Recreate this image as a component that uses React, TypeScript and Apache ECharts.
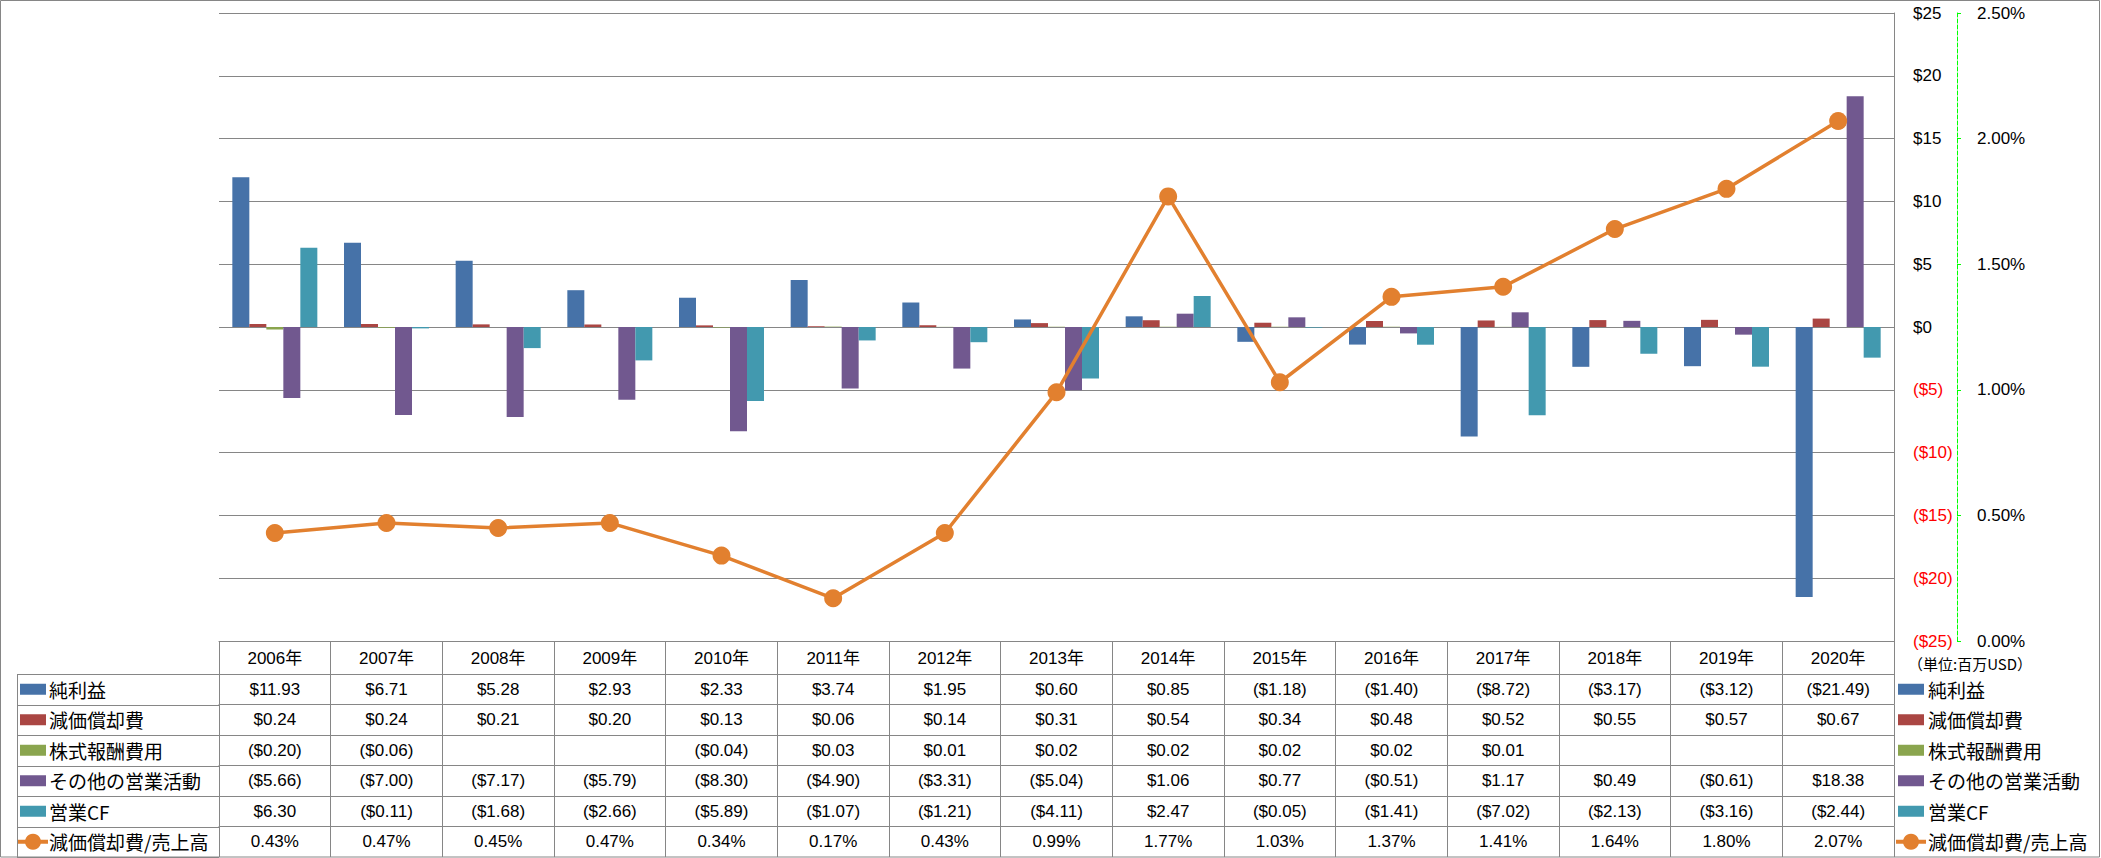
import React, { useEffect, useRef } from 'react';
import * as echarts from 'echarts';

// ---- data ----
const years = ['2006年', '2007年', '2008年', '2009年', '2010年', '2011年', '2012年', '2013年', '2014年', '2015年', '2016年', '2017年', '2018年', '2019年', '2020年'];
const netIncome = [11.93, 6.71, 5.28, 2.93, 2.33, 3.74, 1.95, 0.6, 0.85, -1.18, -1.4, -8.72, -3.17, -3.12, -21.49];
const depreciation = [0.24, 0.24, 0.21, 0.2, 0.13, 0.06, 0.14, 0.31, 0.54, 0.34, 0.48, 0.52, 0.55, 0.57, 0.67];
const stockComp = [-0.2, -0.06, null, null, -0.04, 0.03, 0.01, 0.02, 0.02, 0.02, 0.02, 0.01, null, null, null];
const otherOps = [-5.66, -7.0, -7.17, -5.79, -8.3, -4.9, -3.31, -5.04, 1.06, 0.77, -0.51, 1.17, 0.49, -0.61, 18.38];
const operatingCF = [6.3, -0.11, -1.68, -2.66, -5.89, -1.07, -1.21, -4.11, 2.47, -0.05, -1.41, -7.02, -2.13, -3.16, -2.44];
const depToSales = [0.43, 0.47, 0.45, 0.47, 0.34, 0.17, 0.43, 0.99, 1.77, 1.03, 1.37, 1.41, 1.64, 1.8, 2.07];

const seriesNames = ['純利益', '減価償却費', '株式報酬費用', 'その他の営業活動', '営業CF', '減価償却費/売上高'];
const unitLabel = '（単位:百万USD）';

// ---- style ----
const COLORS = ['#4672A8', '#AA4643', '#8AA54E', '#71588F', '#4299AF', '#E2802F'];
const GRAY = '#868686';
const FONT_NUM = "'Liberation Sans', Arial, 'Noto Sans CJK JP', sans-serif";
const FONT_JP = "'Noto Sans CJK JP', sans-serif";

const W = 2101;
const H = 858;
const GRID_L = 219;
const GRID_T = 13;
const GRID_R = 1894;
const GRID_B = 641;
const HEADER_H = 33;
const ROW_H = 30.5;
const LABEL_COL_L = 17;

const fmtUSD = (v: number | null) => (v == null ? '' : v < 0 ? `($${(-v).toFixed(2)})` : `$${v.toFixed(2)}`);
const fmtPct = (v: number | null) => (v == null ? '' : `${v.toFixed(2)}%`);

const rows = [
  { name: seriesNames[0], values: netIncome, fmt: fmtUSD },
  { name: seriesNames[1], values: depreciation, fmt: fmtUSD },
  { name: seriesNames[2], values: stockComp, fmt: fmtUSD },
  { name: seriesNames[3], values: otherOps, fmt: fmtUSD },
  { name: seriesNames[4], values: operatingCF, fmt: fmtUSD },
  { name: seriesNames[5], values: depToSales, fmt: fmtPct },
];

export default function App() {
  const ref = useRef<HTMLDivElement>(null);

  useEffect(() => {
    if (!ref.current) return;
    const chart = echarts.init(ref.current, undefined, { renderer: 'svg', width: W, height: H });

    const xAxes: any[] = [
      {
        type: 'category',
        data: years,
        gridIndex: 0,
        position: 'bottom',
        axisLine: { show: true, onZero: false, lineStyle: { color: GRAY, width: 1 } },
        axisTick: { show: true, interval: 0, length: HEADER_H, lineStyle: { color: GRAY, width: 1 } },
        axisLabel: { interval: 0, margin: 17, verticalAlign: 'middle', fontSize: 17, color: '#000', fontFamily: FONT_NUM },
        splitLine: { show: false },
      },
    ];
    rows.forEach((r, k) => {
      xAxes.push({
        type: 'category',
        data: years,
        gridIndex: 0,
        position: 'bottom',
        offset: HEADER_H + ROW_H * k,
        axisLine: { show: true, onZero: false, lineStyle: { color: GRAY, width: 1 } },
        axisTick: { show: true, interval: 0, length: ROW_H, lineStyle: { color: GRAY, width: 1 } },
        axisLabel: {
          interval: 0,
          margin: ROW_H / 2,
          verticalAlign: 'middle',
          fontSize: 17,
          color: '#000',
          fontFamily: FONT_NUM,
          formatter: (_v: string, i: number) => r.fmt(r.values[i] as number | null),
        },
        splitLine: { show: false },
      });
    });

    const graphics: any[] = [];
    // outer border
    graphics.push({ type: 'rect', shape: { x: 0.5, y: 0.5, width: W - 2, height: H - 1.5 }, style: { fill: 'none', stroke: GRAY, lineWidth: 1 }, silent: true });
    // row label column borders
    const tableTop = GRID_B + HEADER_H;
    for (let k = 0; k <= rows.length; k++) {
      const y = Math.round(tableTop + ROW_H * k) + 0.5;
      graphics.push({ type: 'line', shape: { x1: LABEL_COL_L, y1: y, x2: GRID_L, y2: y }, style: { stroke: GRAY, lineWidth: 1 }, silent: true });
    }
    graphics.push({ type: 'line', shape: { x1: LABEL_COL_L + 0.5, y1: tableTop, x2: LABEL_COL_L + 0.5, y2: tableTop + ROW_H * rows.length }, style: { stroke: GRAY, lineWidth: 1 }, silent: true });

    // legend keys (left in the table, right beside it)
    const addKey = (i: number, x: number, textX: number) => {
      const cy = tableTop + ROW_H * (i + 0.5);
      if (i < 5) {
        graphics.push({ type: 'rect', shape: { x, y: cy - 5.5, width: 26, height: 11 }, style: { fill: COLORS[i] }, silent: true });
      } else {
        graphics.push({ type: 'line', shape: { x1: x - 2, y1: cy, x2: x + 28, y2: cy }, style: { stroke: COLORS[i], lineWidth: 4 }, silent: true });
        graphics.push({ type: 'circle', shape: { cx: x + 13, cy, r: 8 }, style: { fill: COLORS[i] }, silent: true });
      }
      graphics.push({
        type: 'text',
        x: textX,
        y: cy,
        style: { text: rows[i].name, fontSize: 19, fontFamily: FONT_JP, fill: '#000', verticalAlign: 'middle', align: 'left' },
        silent: true,
      });
    };
    rows.forEach((_r, i) => {
      addKey(i, 20, 49);
      addKey(i, 1898, 1928);
    });
    graphics.push({
      type: 'text',
      x: 1908,
      y: 663,
      style: { text: unitLabel, fontSize: 15, fontFamily: FONT_JP, fill: '#000', verticalAlign: 'middle', align: 'left' },
      silent: true,
    });

    const barSeries = [netIncome, depreciation, stockComp, otherOps, operatingCF].map((vals, i) => ({
      name: seriesNames[i],
      type: 'bar',
      xAxisIndex: 0,
      yAxisIndex: 0,
      data: vals,
      barWidth: 17,
      barGap: '0%',
      itemStyle: { color: COLORS[i] },
      z: 2,
    }));

    chart.setOption({
      animation: false,
      backgroundColor: '#fff',
      grid: { left: GRID_L, top: GRID_T, width: GRID_R - GRID_L, height: GRID_B - GRID_T, containLabel: false },
      xAxis: xAxes,
      yAxis: [
        {
          type: 'value',
          position: 'right',
          min: -25,
          max: 25,
          interval: 5,
          axisLine: { show: true, lineStyle: { color: GRAY, width: 1 } },
          axisTick: { show: false },
          splitLine: { show: true, lineStyle: { color: GRAY, width: 1 } },
          axisLabel: {
            margin: 19,
            align: 'left',
            fontSize: 17,
            fontFamily: FONT_NUM,
            color: (v: any) => (Number(v) < 0 ? '#FF0000' : '#000'),
            formatter: (v: number) => (v < 0 ? `($${-v})` : `$${v}`),
          },
        },
        {
          type: 'value',
          position: 'right',
          offset: 63,
          min: 0,
          max: 2.5,
          interval: 0.5,
          axisLine: { show: true, lineStyle: { color: '#00FF00', width: 1, type: 'dashed' } },
          axisTick: { show: true, length: 4, lineStyle: { color: '#00FF00', width: 1 } },
          splitLine: { show: false },
          axisLabel: {
            margin: 20,
            align: 'left',
            fontSize: 17,
            fontFamily: FONT_NUM,
            color: '#000',
            formatter: (v: number) => `${v.toFixed(2)}%`,
          },
        },
      ],
      series: [
        ...barSeries,
        {
          name: seriesNames[5],
          type: 'line',
          xAxisIndex: 0,
          yAxisIndex: 1,
          data: depToSales,
          symbol: 'circle',
          symbolSize: 18,
          lineStyle: { color: COLORS[5], width: 3.5 },
          itemStyle: { color: COLORS[5] },
          z: 5,
        },
      ],
      graphic: graphics,
    });

    return () => chart.dispose();
  }, []);

  return <div ref={ref} style={{ position: 'absolute', left: 0, top: 0, width: W, height: H, background: '#fff' }} />;
}
